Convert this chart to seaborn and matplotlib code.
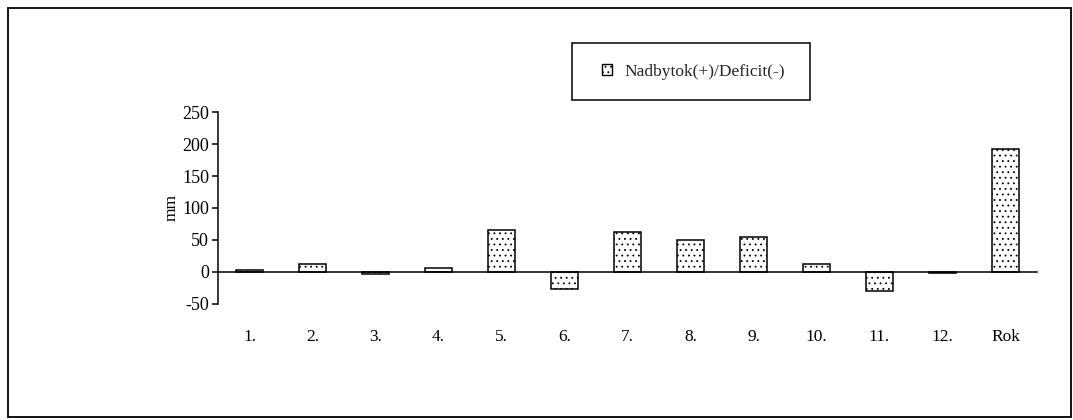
import matplotlib
matplotlib.use("Agg")
import matplotlib.pyplot as plt
from matplotlib.patches import Patch, Rectangle
import numpy as np
import pandas as pd
import seaborn as sns

# Monthly water balance (surplus / deficit) in mm, plus the yearly total
months = ["1.", "2.", "3.", "4.", "5.", "6.", "7.", "8.", "9.", "10.", "11.", "12.", "Rok"]
balance_mm = [2.5, 12, -3, 6, 66, -27, 63, 49, 55, 12, -30, -2, 193]
series_label = "Nadbytok(+)/Deficit(-)"
y_ticks = [-50, 0, 50, 100, 150, 200, 250]
y_label = "mm"

sns.set_style("white")
plt.rcParams["font.family"] = ["Liberation Serif", "DejaVu Serif"]
plt.rcParams["hatch.linewidth"] = 0.6

W, H = 1073, 420
FS = 12.5
fig = plt.figure(figsize=(W / 100, H / 100), dpi=100)
ax = fig.add_axes([218 / W, 1 - 303.6 / H, (1037 - 218) / W, (303.6 - 112.3) / H])

df = pd.DataFrame({"mesiac": months, "mm": balance_mm})
sns.barplot(data=df, x="mesiac", y="mm", color="white", saturation=1,
            edgecolor="black", linewidth=1.1, hatch="...", width=0.43, ax=ax)

ax.set_xlim(-0.5, len(months) - 0.5)
ax.set_ylim(y_ticks[0], y_ticks[-1])

# axis lines: y axis on the left, category axis through zero
for side in ("top", "right"):
    ax.spines[side].set_visible(False)
ax.spines["bottom"].set_position(("data", 0))
for side in ("left", "bottom"):
    ax.spines[side].set_linewidth(1.1)
    ax.spines[side].set_color("black")

# ticks between categories on the zero line, labels below the plot
ax.set_xticks(np.arange(-0.5, len(months), 1.0))
ax.set_xticklabels([])
ax.set_xticks(np.arange(len(months)), minor=True)
ax.set_xticklabels(months, minor=True)
ax.tick_params(axis="x", which="major", direction="inout", length=10,
               width=1.1, color="black", labelbottom=False)
ax.tick_params(axis="x", which="minor", length=0, pad=41, labelsize=FS,
               labelcolor="black")

ax.set_yticks(y_ticks)
ax.set_yticklabels([str(v) for v in y_ticks])
ax.tick_params(axis="y", direction="out", length=4.5, width=1.1, color="black",
               labelsize=FS + 0.5, labelcolor="black", pad=2, left=True)

ax.set_xlabel("")
ax.set_ylabel(y_label, fontsize=FS, labelpad=2, color="black")

# legend entry, centred inside its own box
handle = Patch(facecolor="white", edgecolor="black", hatch="...", linewidth=1.0)
fig.legend(handles=[handle], labels=[series_label], loc="center",
           bbox_to_anchor=(693.5 / W, 1 - 72 / H), frameon=False,
           borderpad=0, handlelength=0.6, handleheight=0.6,
           handletextpad=0.7, fontsize=FS, borderaxespad=0)
fig.patches.append(Rectangle((572 / W, 1 - 100 / H), (810 - 572) / W, 57 / H,
                             transform=fig.transFigure, fill=False,
                             edgecolor="black", linewidth=1.1))

# outer chart frame
fig.patches.append(Rectangle((8 / W, 3 / H), 1063 / W, 409 / H,
                             transform=fig.transFigure, fill=False,
                             edgecolor="black", linewidth=1.3))

fig.savefig("out.png", dpi=100)
